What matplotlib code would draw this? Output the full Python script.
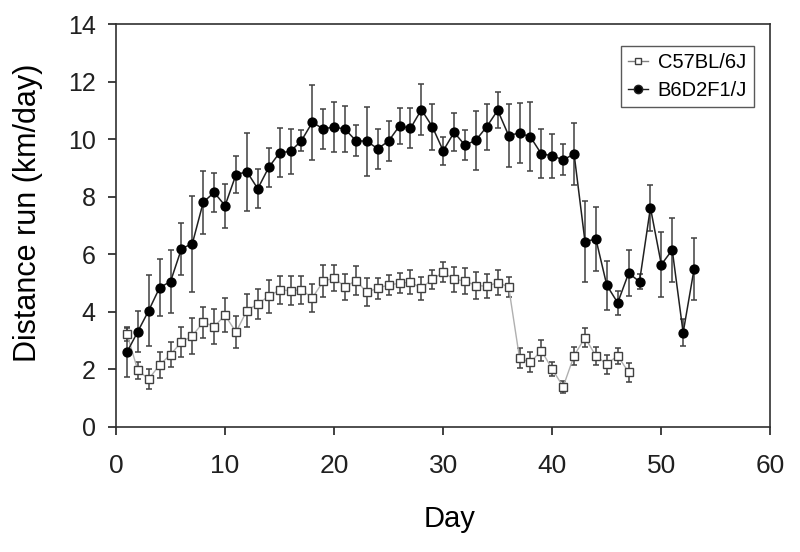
import numpy as np
import matplotlib
matplotlib.use("Agg")
import matplotlib.pyplot as plt

plt.rcParams['font.family'] = ['Liberation Sans', 'DejaVu Sans']

# C57BL/6J, days 1-47
c57_days = list(range(1, 48))
c57_mean = [3.23, 1.96, 1.66, 2.15, 2.51, 2.95, 3.16, 3.64, 3.48, 3.88,
            3.29, 4.04, 4.27, 4.54, 4.76, 4.73, 4.76, 4.48, 5.06, 5.17,
            4.87, 5.08, 4.68, 4.82, 4.93, 4.99, 5.03, 4.82, 5.13, 5.37,
            5.13, 5.07, 4.91, 4.89, 5.01, 4.87, 2.38, 2.24, 2.65, 2.00,
            1.39, 2.47, 3.10, 2.46, 2.18, 2.47, 1.89]
c57_err = [0.25, 0.30, 0.34, 0.45, 0.44, 0.52, 0.62, 0.54, 0.60, 0.60,
           0.55, 0.57, 0.52, 0.57, 0.50, 0.50, 0.50, 0.50, 0.55, 0.46,
           0.45, 0.50, 0.49, 0.36, 0.36, 0.34, 0.43, 0.40, 0.33, 0.35,
           0.44, 0.45, 0.48, 0.42, 0.43, 0.35, 0.35, 0.35, 0.35, 0.25,
           0.21, 0.32, 0.33, 0.33, 0.33, 0.28, 0.34]

# B6D2F1/J, days 1-53
b6_days = list(range(1, 54))
b6_mean = [2.59, 3.31, 4.04, 4.84, 5.05, 6.19, 6.37, 7.81, 8.15, 7.69,
           8.77, 8.87, 8.28, 9.02, 9.53, 9.58, 9.95, 10.59, 10.36, 10.43,
           10.35, 9.95, 9.93, 9.67, 9.94, 10.47, 10.38, 11.03, 10.44, 9.60,
           10.24, 9.79, 9.97, 10.44, 11.01, 10.13, 10.22, 10.08, 9.49, 9.43,
           9.28, 9.49, 6.44, 6.53, 4.92, 4.31, 5.34, 5.05, 7.62, 5.64,
           6.15, 3.27, 5.48]
b6_err = [0.86, 0.72, 1.24, 1.00, 1.10, 0.90, 1.67, 1.10, 0.69, 0.77,
          0.64, 1.36, 0.68, 0.67, 0.86, 0.78, 0.36, 1.30, 0.69, 0.87,
          0.80, 0.53, 1.20, 0.70, 0.71, 0.62, 0.70, 0.88, 0.80, 0.48,
          0.66, 0.52, 1.03, 0.80, 0.62, 1.10, 1.05, 1.20, 0.85, 0.77,
          0.54, 1.08, 1.40, 1.13, 0.86, 0.41, 0.80, 0.25, 0.80, 1.14,
          1.10, 0.47, 1.08]

fig = plt.figure(figsize=(8, 5.52), dpi=100)
ax = fig.add_axes([0.145, 0.227, 0.818, 0.729])

err_col = '#404040'
ax.errorbar(c57_days, c57_mean, yerr=c57_err, fmt='none', ecolor=err_col,
            elinewidth=1.1, capsize=2.3, capthick=1.1, zorder=2)
ax.plot(c57_days, c57_mean, '-', color='#b0b0b0', lw=1.0, zorder=3)
ax.plot(c57_days, c57_mean, 's', ms=5.2, mfc='white', mec='#404040', mew=1.0,
        ls='none', zorder=4)

ax.errorbar(b6_days, b6_mean, yerr=b6_err, fmt='none', ecolor=err_col,
            elinewidth=1.1, capsize=2.3, capthick=1.1, zorder=2)
ax.plot(b6_days, b6_mean, 'o-', color='#202020', lw=1.1, ms=6.4,
        mfc='black', mec='black', zorder=5)

# legend handles
h1, = ax.plot([], [], 's-', color='#808080', lw=1.0, ms=4.5, mfc='white',
              mec='#404040')
h2, = ax.plot([], [], 'o-', color='#202020', lw=1.0, ms=6, mfc='black')
leg = ax.legend([h1, h2], ['C57BL/6J', 'B6D2F1/J'], loc='upper right',
                bbox_to_anchor=(0.975, 0.947), fontsize=14.5, handlelength=0.95,
                handletextpad=0.5, borderpad=0.35, labelspacing=0.45,
                fancybox=False, frameon=True, borderaxespad=0)
leg.get_frame().set_edgecolor('#303030')
leg.get_frame().set_linewidth(1.0)

ax.set_xlim(0, 60)
ax.set_ylim(0, 14)
ax.set_xticks(np.arange(0, 61, 10))
ax.set_yticks(np.arange(0, 15, 2))
ax.tick_params(direction='out', length=6, width=1.2, colors='#202020')
ax.tick_params(axis='x', labelsize=19, pad=14)
ax.tick_params(axis='y', labelsize=18, pad=8.5)
for s in ax.spines.values():
    s.set_linewidth(1.2)
    s.set_color('#303030')

ax.set_xlabel('Day', fontsize=21)
ax.set_ylabel('Distance run (km/day)', fontsize=22)
ax.xaxis.set_label_coords(0.509, -0.195)
ax.yaxis.set_label_coords(-0.1115, 0.532)

fig.savefig('out.png', dpi=100)
